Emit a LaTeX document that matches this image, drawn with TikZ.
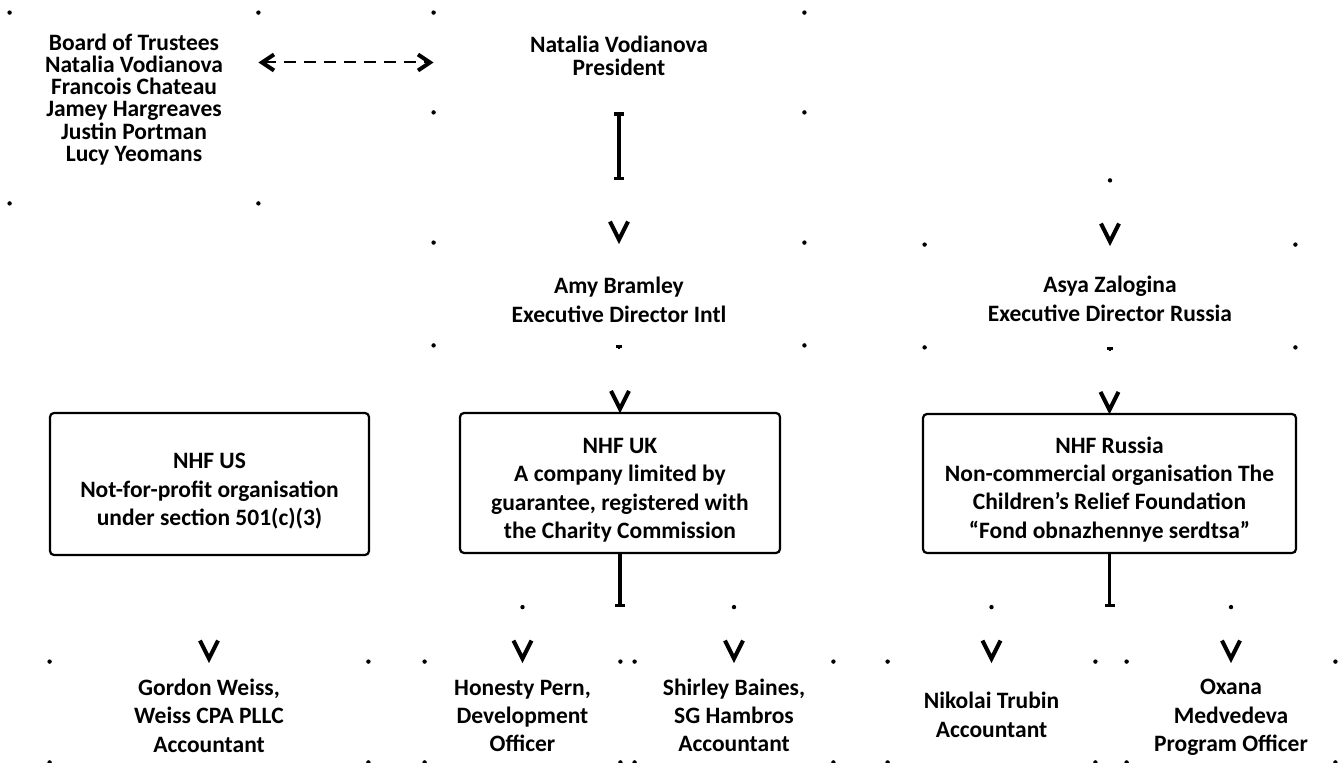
\documentclass[tikz,border=0pt]{standalone}
\usepackage{fontspec}
\setmainfont{Carlito}
\usetikzlibrary{arrows.meta,calc}

\begin{document}
\begin{tikzpicture}[x=0.5pt,y=-0.5pt,
    role/.style={inner sep=0pt, align=center, font=\bfseries\fontsize{11.75}{14.2}\selectfont},
    entity/.style={role, draw, rounded corners=2pt, line width=1.1pt},
    stem/.style={line width=1.6pt, {Bar[width=5pt]}-{Bar[width=5pt]}},
    tip/.style={line width=2pt},
    link/.style={dash pattern=on 6pt off 4pt, line width=1pt, {Straight Barb[length=6pt,width=8pt,line width=2pt]}-{Straight Barb[length=6pt,width=8pt,line width=2pt]}}]
    \useasboundingbox (0,0) rectangle (1342,763);

    % Trustees and president
    \node[role, font=\bfseries\fontsize{11.75}{11.1}\selectfont, minimum width=124pt, minimum height=95pt] (board) at (134,108) {Board of Trustees\\Natalia Vodianova\\Francois Chateau\\Jamey Hargreaves\\Justin Portman\\Lucy Yeomans\rule[-10.4pt]{0pt}{0pt}};
    \node[role, font=\bfseries\fontsize{11.75}{11.5}\selectfont, minimum width=185pt, minimum height=49.5pt] (pres) at (619,62.5) {Natalia Vodianova\\President\rule[-7pt]{0pt}{0pt}};
    \draw[link] (board.east |- pres.west) -- (pres.west);

    % Executive directors
    \node[role, minimum width=185pt, minimum height=51pt] (amy) at (619,294) {\rule{0pt}{14pt}Amy Bramley\\Executive Director Intl};
    \node[role, minimum width=185pt, minimum height=51pt] (asya) at (1110,296) {\rule{0pt}{11pt}Asya Zalogina\\Executive Director Russia};

    % The three foundations
    \node[entity, minimum width=159.5pt, minimum height=71pt] (us) at (209.5,484) {\rule{0pt}{15pt}NHF US\\Not-for-profit organisation\\under section 501(c)(3)};
    \node[entity, minimum width=160pt, minimum height=70pt] (uk) at (620,483) {\rule{0pt}{15pt}NHF UK\\A company limited by\\guarantee, registered with\\the Charity Commission};
    \node[entity, minimum width=186.5pt, minimum height=69.5pt] (ru) at (1109.5,483.5) {\rule{0pt}{14pt}NHF Russia\\Non-commercial organisation The\\Children’s Relief Foundation\\“Fond obnazhennye serdtsa”};

    % Staff
    \node[role, minimum width=159pt, minimum height=50pt] (gordon) at (209,712) {\rule{0pt}{12pt}Gordon Weiss,\\Weiss CPA PLLC\\Accountant};
    \node[role, minimum width=97.5pt, minimum height=50pt] (honesty) at (522.5,712) {\rule{0pt}{11.5pt}Honesty Pern,\\Development\\Officer};
    \node[role, minimum width=99pt, minimum height=50pt] (shirley) at (734,712) {\rule{0pt}{11.5pt}Shirley Baines,\\SG Hambros\\Accountant};
    \node[role, minimum width=103.5pt, minimum height=50pt] (nikolai) at (991.5,712) {\rule{0pt}{11pt}Nikolai Trubin\\Accountant};
    \node[role, minimum width=104pt, minimum height=50pt] (oxana) at (1231,712) {\rule{0pt}{13pt}Oxana\\Medvedeva\\Program Officer};

    % Stems and forks
    \path (pres.south) ++(0,68) coordinate (topfork);
    \path (uk.south) ++(0,53) coordinate (ukfork);
    \path (ru.south) ++(0,53) coordinate (rufork);
    \draw[stem] (pres.south) -- (topfork);
    \draw[stem, {}-{Bar[width=5pt]}] (uk.south) -- (ukfork);
    \draw[stem, {}-{Bar[width=5pt]}] (ru.south) -- (rufork);
    \draw[line width=1.2pt, {Bar[width=3pt]}-] (amy.south) -- ++(0,4);
    \draw[line width=1.2pt, {Bar[width=3pt]}-] (asya.south) -- ++(0,4);
    \foreach \p in {asya.north |- topfork, honesty.north |- ukfork, shirley.north |- ukfork, nikolai.north |- rufork, oxana.north |- rufork}
        \fill (\p) circle (1.1pt);

    % Corner dots of the open boxes
    \foreach \n in {board,pres,amy,asya,gordon,honesty,shirley,nikolai,oxana}
        \foreach \a in {north west,north east,south west,south east}
            \fill (\n.\a) circle (1.1pt);

    % Arrow heads
    \foreach \n in {amy,asya,uk,ru,gordon,honesty,shirley,nikolai,oxana}
        \draw[tip] ($(\n.north)+(-9,-21)$) -- ($(\n.north)+(0,-3)$) -- ($(\n.north)+(9,-21)$);

\end{tikzpicture}
\end{document}
